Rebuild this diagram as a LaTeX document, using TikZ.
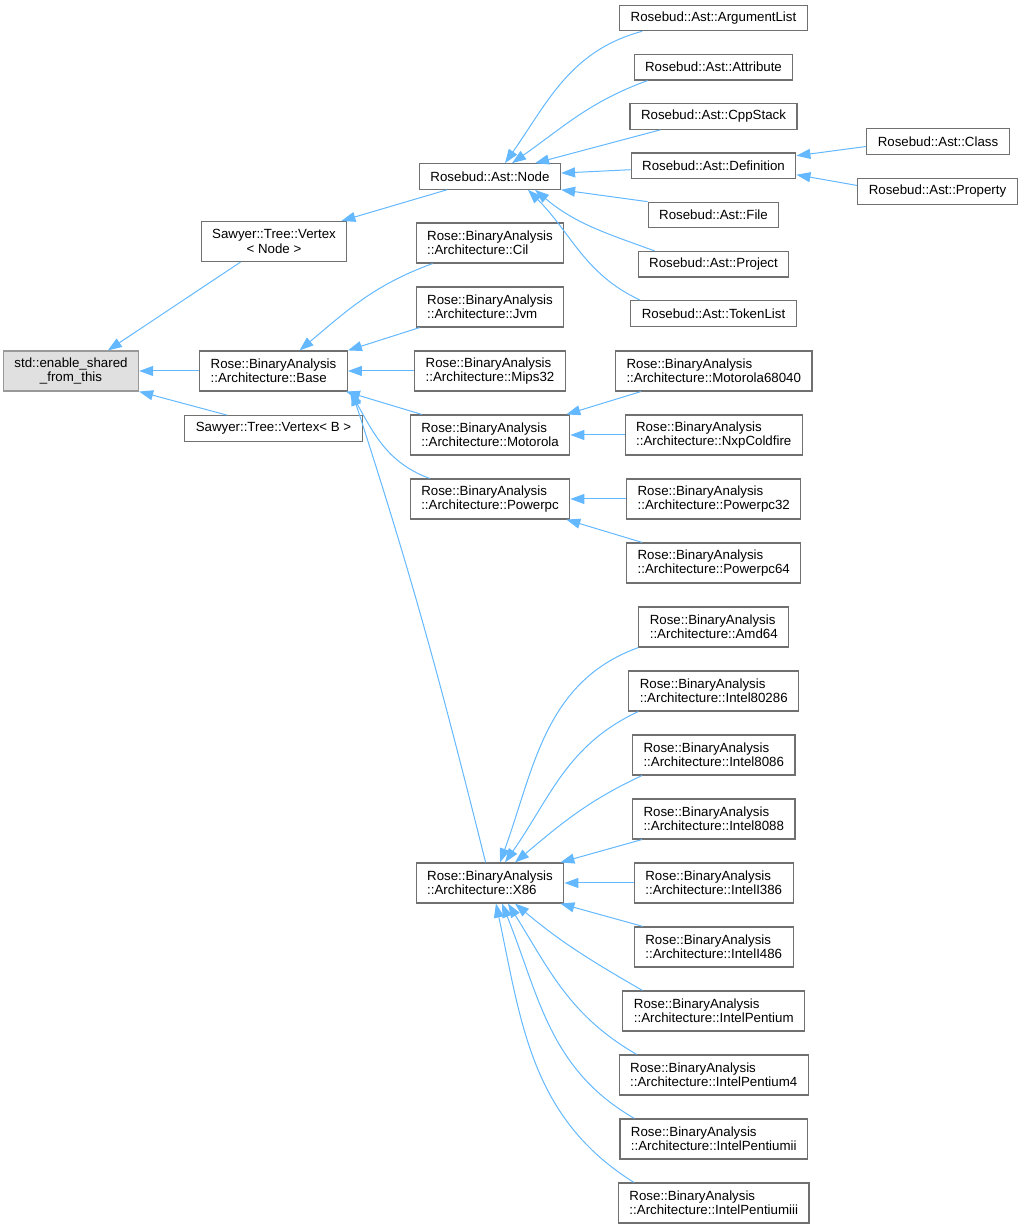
\documentclass[tikz,border=0pt]{standalone}
\usepackage{fontspec}
\setmainfont{Liberation Sans}
\usepackage{tikz}
\usetikzlibrary{arrows.meta,positioning,shapes}
\definecolor{edgeblue}{HTML}{63B8FF}
\definecolor{boxgray}{HTML}{707070}
\definecolor{rootline}{HTML}{999999}
\definecolor{rootfill}{HTML}{E0E0E0}

\begin{document}
\begin{tikzpicture}[x=1pt,y=1pt,
            cls/.style={draw=boxgray,rectangle,line width=1.15pt,inner xsep=11pt,inner ysep=2pt,minimum height=25.5pt,font=\fontsize{13.3}{14.3}\selectfont},
            cls2/.style={cls,minimum height=40pt,align=left},
            root/.style={cls,minimum height=40pt,align=center,draw=rootline,fill=rootfill},
            astlist/.style={cls,node distance=49.25pt},
            archlist/.style={cls2,node distance=64pt},
            inh/.style={draw=edgeblue,line width=1pt,-{Triangle[length=14pt,width=10pt]}}
          ]
          \useasboundingbox (0,0) rectangle (1023,1229);

          %root and vertices
          \node[root] (std) at (71,858) {std::enable\_shared\\\_from\_this};
          \node[cls,minimum height=40pt,align=center] (vnode) at (274,987.5) {Sawyer::Tree::Vertex\\< Node >};
          \node[cls2] (base) at (273.5,858) {Rose::BinaryAnalysis\\::Architecture::Base};
          \node[cls] (vb) at (273.5,800.5) {Sawyer::Tree::Vertex< B >};

          %ast node and architectures
          \node[cls] (astnode) at (490,1052.5) {Rosebud::Ast::Node};
          \node[cls2] (cil) at (490,986) {Rose::BinaryAnalysis\\::Architecture::Cil};
          \node[below of = cil,archlist] (jvm) {Rose::BinaryAnalysis\\::Architecture::Jvm};
          \node[below of = jvm,archlist] (mips) {Rose::BinaryAnalysis\\::Architecture::Mips32};
          \node[below of = mips,archlist] (moto) {Rose::BinaryAnalysis\\::Architecture::Motorola};
          \node[below of = moto,archlist] (ppc) {Rose::BinaryAnalysis\\::Architecture::Powerpc};
          \node[cls2] (x86) at (490,346) {Rose::BinaryAnalysis\\::Architecture::X86};

          %ast classes
          \node[cls] (arglist) at (713.5,1211) {Rosebud::Ast::ArgumentList};
          \node[below of = arglist,astlist] (attribute) {Rosebud::Ast::Attribute};
          \node[below of = attribute,astlist] (cppstack) {Rosebud::Ast::CppStack};
          \node[below of = cppstack,astlist] (definition) {Rosebud::Ast::Definition};
          \node[below of = definition,astlist] (file) {Rosebud::Ast::File};
          \node[below of = file,astlist] (project) {Rosebud::Ast::Project};
          \node[below of = project,astlist] (tokenlist) {Rosebud::Ast::TokenList};
          \node[cls] (class) at (938,1087.5) {Rosebud::Ast::Class};
          \node[cls] (property) at (937.5,1037.5) {Rosebud::Ast::Property};

          %leaf architectures
          \node[cls2] (m68040) at (713.75,858) {Rose::BinaryAnalysis\\::Architecture::Motorola68040};
          \node[below of = m68040,archlist] (nxp) {Rose::BinaryAnalysis\\::Architecture::NxpColdfire};
          \node[below of = nxp,archlist] (ppc32) {Rose::BinaryAnalysis\\::Architecture::Powerpc32};
          \node[below of = ppc32,archlist] (ppc64) {Rose::BinaryAnalysis\\::Architecture::Powerpc64};
          \node[below of = ppc64,archlist] (amd64) {Rose::BinaryAnalysis\\::Architecture::Amd64};
          \node[below of = amd64,archlist] (i80286) {Rose::BinaryAnalysis\\::Architecture::Intel80286};
          \node[below of = i80286,archlist] (i8086) {Rose::BinaryAnalysis\\::Architecture::Intel8086};
          \node[below of = i8086,archlist] (i8088) {Rose::BinaryAnalysis\\::Architecture::Intel8088};
          \node[below of = i8088,archlist] (i386) {Rose::BinaryAnalysis\\::Architecture::IntelI386};
          \node[below of = i386,archlist] (i486) {Rose::BinaryAnalysis\\::Architecture::IntelI486};
          \node[below of = i486,archlist] (pentium) {Rose::BinaryAnalysis\\::Architecture::IntelPentium};
          \node[below of = pentium,archlist] (pentium4) {Rose::BinaryAnalysis\\::Architecture::IntelPentium4};
          \node[below of = pentium4,archlist] (pentiumii) {Rose::BinaryAnalysis\\::Architecture::IntelPentiumii};
          \node[below of = pentiumii,archlist] (pentiumiii) {Rose::BinaryAnalysis\\::Architecture::IntelPentiumiii};

          %inheritance
          \path
          ([xshift=40pt]vnode.south west) edge[inh] ([xshift=105pt]std.north west)
          (base) edge[inh] (std)
          ([xshift=43pt]vb.north west) edge[inh] (std.south east)
          ([xshift=28pt]astnode.south west) edge[inh] ([xshift=-6pt]vnode.north east)
          ([xshift=17pt]cil.south west) edge[inh,out=200,in=40] ([xshift=26pt]base.north)
          ([xshift=4pt]jvm.south west) edge[inh] (base.north east)
          (mips) edge[inh] (base)
          ([xshift=12pt]moto.north west) edge[inh] ([xshift=-2pt]base.south east)
          ([xshift=20pt]ppc.north west) edge[inh,out=160,in=-60] ([xshift=2pt]base.south east)
          ([xshift=70pt]x86.north west) edge[inh,out=104,in=-72] ([xshift=4pt]base.south east)
          ;
          \path
          ([xshift=23pt]arglist.south west) edge[inh,out=195,in=55] ([xshift=15pt]astnode.north)
          ([xshift=14pt]attribute.south west) edge[inh,out=200,in=35] ([xshift=22pt]astnode.north)
          ([xshift=31pt]cppstack.south west) edge[inh] ([xshift=-26pt]astnode.north east)
          (definition) edge[inh] (astnode)
          (file.north west) edge[inh] (astnode.south east)
          ([xshift=17pt]project.north west) edge[inh,out=160,in=-40] ([xshift=45pt]astnode.south)
          ([xshift=10pt]tokenlist.north west) edge[inh,out=155,in=-45] ([xshift=38pt]astnode.south)
          ([yshift=-5pt]class.west) edge[inh] ([yshift=10pt]definition.east)
          ([yshift=6pt]property.west) edge[inh] ([yshift=-9pt]definition.east)
          ;
          \path
          ([xshift=26pt]m68040.south west) edge[inh] ([xshift=-4pt]moto.north east)
          (nxp) edge[inh] (moto)
          (ppc32) edge[inh] (ppc)
          ([xshift=16pt]ppc64.north west) edge[inh] ([xshift=-4pt]ppc.south east)
          (amd64.south west) edge[inh,out=200,in=70] ([xshift=10pt]x86.north)
          ([xshift=10pt]i80286.south west) edge[inh,out=205,in=55] ([xshift=15pt]x86.north)
          ([xshift=10pt]i8086.south west) edge[inh,out=205,in=40] ([xshift=25pt]x86.north)
          ([xshift=10pt]i8088.south west) edge[inh] ([xshift=-4pt]x86.north east)
          (i386) edge[inh] (x86)
          ([xshift=9pt]i486.north west) edge[inh] ([xshift=-4pt]x86.south east)
          ([xshift=20pt]pentium.north west) edge[inh,out=150,in=-40] ([xshift=25pt]x86.south)
          ([xshift=18pt]pentium4.north west) edge[inh,out=150,in=-58] ([xshift=18pt]x86.south)
          ([xshift=15pt]pentiumii.north west) edge[inh,out=150,in=-68] ([xshift=12pt]x86.south)
          ([xshift=16pt]pentiumiii.north west) edge[inh,out=148,in=-78] ([xshift=6pt]x86.south)
          ;

      \end{tikzpicture}
\end{document}
